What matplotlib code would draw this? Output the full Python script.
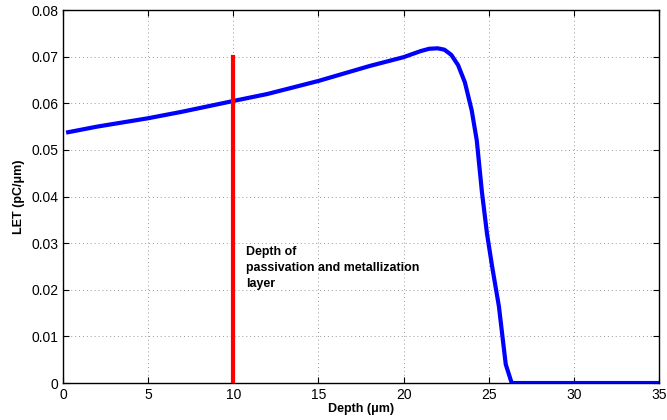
import matplotlib
matplotlib.use("Agg")
import matplotlib.pyplot as plt

depth = [0.3, 2, 4, 5, 7, 10, 12, 15, 18, 20, 21, 21.5, 22.0, 22.4, 22.8, 23.2, 23.6,
         24.0, 24.3, 24.6, 24.9, 25.2, 25.6, 26.0, 26.35, 30, 35]
let = [0.0538, 0.0550, 0.0562, 0.0568, 0.0582, 0.0605, 0.0620, 0.0648, 0.0680, 0.0699,
       0.0712, 0.0717, 0.0718, 0.0715, 0.0704, 0.0682, 0.0645, 0.0585, 0.0520, 0.0410,
       0.0320, 0.0250, 0.0164, 0.0040, 0.0, 0.0, 0.0]
marker_x = [10, 10]
marker_y = [0, 0.07]
xticks = [0, 5, 10, 15, 20, 25, 30, 35]
yticks = [0, 0.01, 0.02, 0.03, 0.04, 0.05, 0.06, 0.07, 0.08]
ytick_labels = ["0", "0.01", "0.02", "0.03", "0.04", "0.05", "0.06", "0.07", "0.08"]
annotation = "Depth of\npassivation and metallization\nlayer"

plt.rcParams['font.family'] = ['Liberation Sans', 'DejaVu Sans']
fig = plt.figure(figsize=(6.67, 4.2), dpi=100)
ax = fig.add_axes([0.0945, 0.088, 0.8935, 0.888])

ax.plot(depth, let, color='#0000ff', lw=3, solid_joinstyle='round', zorder=3)
ax.plot(marker_x, marker_y, color='#ff0000', lw=3, zorder=4)
ax.text(10.75, 0.0295, annotation, fontsize=8.9, fontweight='bold', va='top', ha='left',
        linespacing=1.45)

ax.set_xlim(0, 35)
ax.set_ylim(0, 0.08)
ax.set_xticks(xticks)
ax.set_yticks(yticks)
ax.set_yticklabels(ytick_labels)
ax.tick_params(direction='in', top=True, right=True, labelsize=10, length=4, width=0.8)
ax.grid(True, linestyle=(0, (1, 3)), color='#999999', lw=0.7)
for s in ax.spines.values():
    s.set_linewidth(1.0)
ax.set_xlabel('Depth (\u03bcm)', fontsize=9, fontweight='bold', labelpad=1)
ax.set_ylabel('LET (pC/\u03bcm)', fontsize=9, fontweight='bold', labelpad=4)

fig.savefig('out.png', dpi=100)
